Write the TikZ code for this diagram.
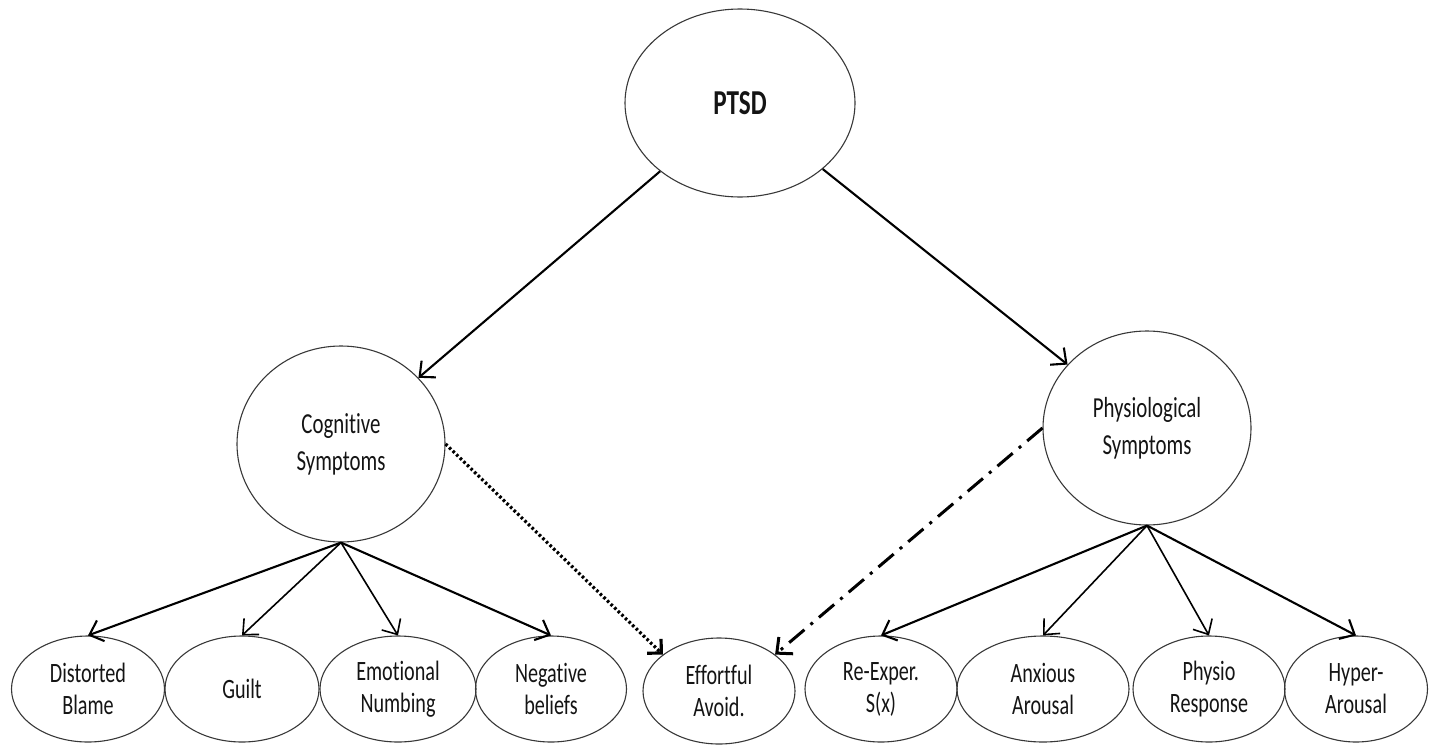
\documentclass[tikz,border=0pt]{standalone}
\usepackage{fontspec}
\setmainfont{Carlito}[FakeStretch=0.72, Ligatures={NoCommon}]
\usetikzlibrary{shapes.geometric,arrows.meta}
\begin{document}
\begin{tikzpicture}[x=1pt,y=-1pt,
  bubble/.style={ellipse, draw=black!78, line width=1.1pt, inner sep=0pt,
                 align=center, text=black!92},
  factor/.style={bubble, font=\fontsize{29}{37}\selectfont},
  leaf/.style={bubble, minimum height=106pt, font=\fontsize{28}{32}\selectfont},
  barb/.style={-{Straight Barb[length=12pt,width=22pt]}},
  link/.style={barb, line width=2.1pt},
  thinlink/.style={barb, line width=1.6pt},
  dotlink/.style={line width=3.2pt, dash pattern=on 2.6pt off 2.4pt,
                  -{Straight Barb[length=10pt,width=20pt]}},
  dashdotlink/.style={line width=3pt, dash pattern=on 20pt off 8pt on 3pt off 8pt,
                  -{Straight Barb[length=12pt,width=22pt]}}
]
\useasboundingbox (0,0) rectangle (1429,744);

% top construct and the two symptom clusters
\node[bubble, minimum width=230pt, minimum height=188pt,
      font=\bfseries\fontsize{35}{40}\selectfont] (ptsd) at (740,103) {PTSD};
\node[factor, minimum width=208pt, minimum height=196pt] (cog) at (341,444) {Cognitive\\Symptoms};
\node[factor, minimum width=208pt, minimum height=194pt] (phys) at (1147,428) {Physiological\\Symptoms};

% indicators
\node[leaf, minimum width=153pt] (dist)   at (88,689)   {Distorted\\Blame};
\node[leaf, minimum width=154pt] (guilt)  at (242,689)  {Guilt};
\node[leaf, minimum width=156pt] (emo)    at (398,689)  {Emotional\\Numbing};
\node[leaf, minimum width=151pt] (neg)    at (551,689)  {Negative\\beliefs};
\node[leaf, minimum width=152pt] (eff)    at (719,691)  {Effortful\\Avoid.};
\node[leaf, minimum width=152pt] (reexp)  at (881,689)  {Re-Exper.\\S(x)};
\node[leaf, minimum width=172pt] (anx)    at (1043,689) {Anxious\\Arousal};
\node[leaf, minimum width=152pt] (physio) at (1209,689) {Physio\\Response};
\node[leaf, minimum width=143pt] (hyper)  at (1356,689) {Hyper-\\Arousal};

% connectors
\draw[link] (ptsd) -- (cog);
\draw[link] (ptsd) -- (phys);

\draw[link]     (cog.south) -- (dist.north);
\draw[thinlink] (cog.south) -- (guilt.north);
\draw[thinlink] (cog.south) -- (emo.north);
\draw[link]     (cog.south) -- (neg.north);

\draw[link]     (phys.south) -- (reexp.north);
\draw[thinlink] (phys.south) -- (anx.north);
\draw[thinlink] (phys.south) -- (physio.north);
\draw[link]     (phys.south) -- (hyper.north);

\draw[dotlink]     (cog.east)  -- (eff.147);
\draw[dashdotlink] (phys.west) -- (eff.33);
\end{tikzpicture}
\end{document}
